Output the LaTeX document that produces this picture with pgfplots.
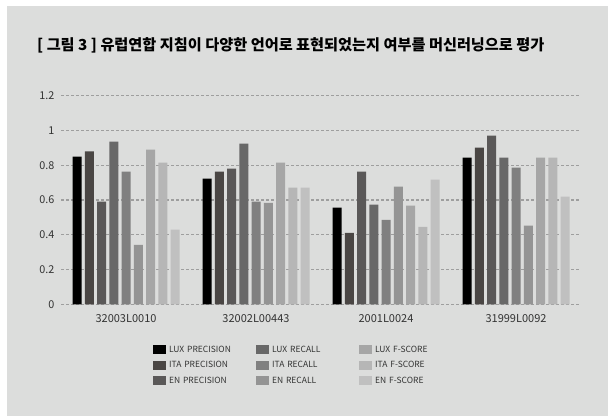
\documentclass[border=0pt]{standalone}
\usepackage{pgfplots}
\pgfplotsset{compat=1.18}
\usepackage{fontspec}
\setmainfont{Noto Sans CJK KR}
\definecolor{bg}{RGB}{220,221,220}
\definecolor{cA}{HTML}{000000}
\definecolor{cB}{HTML}{4A4644}
\definecolor{cC}{HTML}{5A5858}
\definecolor{cD}{HTML}{686868}
\definecolor{cE}{HTML}{808080}
\definecolor{cF}{HTML}{949494}
\definecolor{cG}{HTML}{A6A6A6}
\definecolor{cH}{HTML}{B6B6B6}
\definecolor{cI}{HTML}{C0C0C0}
\definecolor{gridc}{HTML}{9E9E9E}
\definecolor{txt}{HTML}{333333}
\begin{document}
\begin{tikzpicture}
\path[use as bounding box, fill=white] (0,0) rectangle (608bp,416bp);
\fill[bg] (7bp,0) rectangle (608bp,410bp);
\node[anchor=west, font=\fontsize{15.2bp}{17bp}\selectfont\bfseries, text=black, inner sep=0] at (37bp,371bp) {[ 그림 3 ] 유럽연합 지침이 다양한 언어로 표현되었는지 여부를 머신러닝으로 평가};
\begin{axis}[
  at={(61bp,111.7bp)}, anchor=south west,
  scale only axis, width=520bp, height=208.6bp,
  xmin=-0.5, xmax=3.5, ymin=0, ymax=1.2,
  ytick={0,0.2,0.4,0.6,0.8,1,1.2},
  xtick={0,1,2,3},
  xticklabels={32003L0010,32002L00443,2001L0024,31999L0092},
  axis line style={draw=none},
  major tick length=0pt,
  ymajorgrids,
  grid style={gridc, line width=1.2bp, dash pattern=on 3bp off 2bp},
  /pgf/number format/assume math mode=true,
  yticklabel style={font=\fontsize{10.8bp}{12bp}\selectfont, text=txt, xshift=-3bp},
  xticklabel style={font=\fontsize{11bp}{13bp}\selectfont, text=txt, yshift=-7bp},
  ybar=3.25bp, bar width=9bp,
  legend columns=3, transpose legend,
  legend cell align=left,
  legend image code/.code={\fill[#1] (0bp,-4.5bp) rectangle (13bp,4.5bp);},
  legend style={at={(0.171,-0.18)}, anchor=north west, draw=none, fill=none,
    font=\fontsize{8.5bp}{10bp}\selectfont, text=txt, row sep=3.5bp,
    nodes={text width=84bp, inner xsep=3bp}},
]
\addplot[fill=cA, draw=none] coordinates {(0,0.850) (1,0.723) (2,0.556) (3,0.844)};
\addlegendentry{LUX PRECISION}
\addplot[fill=cB, draw=none] coordinates {(0,0.879) (1,0.763) (2,0.411) (3,0.902)};
\addlegendentry{ITA PRECISION}
\addplot[fill=cC, draw=none] coordinates {(0,0.590) (1,0.781) (2,0.763) (3,0.971)};
\addlegendentry{EN PRECISION}
\addplot[fill=cD, draw=none] coordinates {(0,0.936) (1,0.925) (2,0.573) (3,0.844)};
\addlegendentry{LUX RECALL}
\addplot[fill=cE, draw=none] coordinates {(0,0.763) (1,0.590) (2,0.486) (3,0.786)};
\addlegendentry{ITA RECALL}
\addplot[fill=cF, draw=none] coordinates {(0,0.342) (1,0.584) (2,0.677) (3,0.452)};
\addlegendentry{EN RECALL}
\addplot[fill=cG, draw=none] coordinates {(0,0.890) (1,0.815) (2,0.567) (3,0.844)};
\addlegendentry{LUX F-SCORE}
\addplot[fill=cH, draw=none] coordinates {(0,0.815) (1,0.671) (2,0.446) (3,0.844)};
\addlegendentry{ITA F-SCORE}
\addplot[fill=cI, draw=none] coordinates {(0,0.429) (1,0.671) (2,0.717) (3,0.619)};
\addlegendentry{EN F-SCORE}
\end{axis}
\end{tikzpicture}
\end{document}
